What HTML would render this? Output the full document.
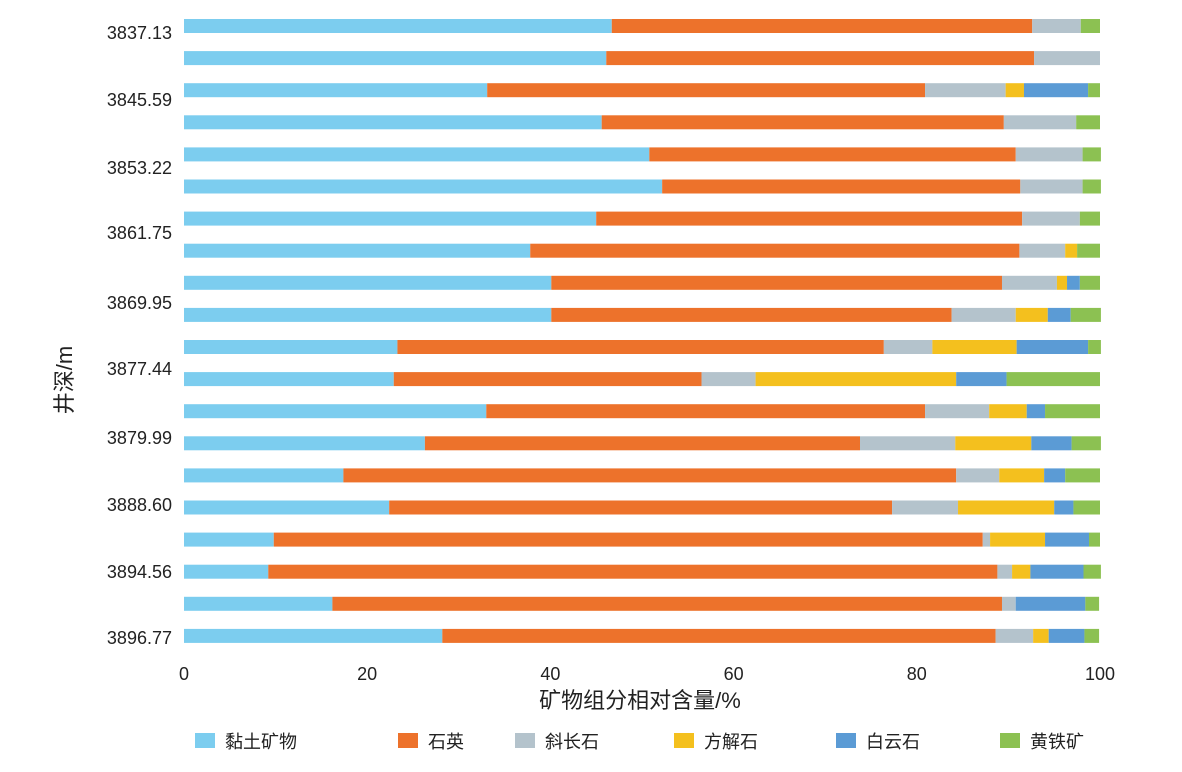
<!DOCTYPE html>
<html><head><meta charset="utf-8">
<style>
html,body{margin:0;padding:0;background:#fff;}
svg text{font-family:"Liberation Sans","Noto Sans CJK SC",sans-serif;fill:#222;}
</style></head>
<body>
<svg id="chart" width="1182" height="767" viewBox="0 0 1182 767" xmlns="http://www.w3.org/2000/svg">
<g id="bars"></g>
<g id="axes"></g>
<g id="legend"></g>
</svg>
<script>
const seriesNames = ["黏土矿物","石英","斜长石","方解石","白云石","黄铁矿"];
const seriesColors = ["#7ccdef","#ed722b","#b4c3cc","#f4c01e","#5b9bd5","#8cc152"];
const clay =     [46.7,46.1,33.1,45.6,50.8,52.2,45.0,37.8,40.1,40.1,23.3,22.9,33.0,26.3,17.4,22.4,9.8,9.2,16.2,28.2];
const quartz =   [45.9,46.7,47.8,43.9,40.0,39.1,46.5,53.4,49.2,43.7,53.1,33.6,47.9,47.5,66.9,54.9,77.4,79.6,73.1,60.4];
const plag =     [5.3,7.2,8.8,7.9,7.3,6.8,6.3,5.0,6.0,7.0,5.3,5.9,7.0,10.4,4.7,7.2,0.8,1.6,1.5,4.1];
const calcite =  [0,0,2.0,0,0,0,0,1.3,1.1,3.5,9.2,21.9,4.1,8.3,4.9,10.5,6.0,2.0,0,1.7];
const dolomite = [0,0,7.0,0,0,0,0,0,1.4,2.5,7.8,5.5,2.0,4.4,2.3,2.1,4.8,5.8,7.6,3.9];
const pyrite =   [2.1,0,1.3,2.6,2.0,2.0,2.2,2.5,2.2,3.3,1.4,10.2,6.0,3.2,3.8,2.9,1.2,1.9,1.5,1.6];
const depthLabels = ["3837.13","3845.59","3853.22","3861.75","3869.95","3877.44","3879.99","3888.60","3894.56","3896.77"];
const depthLabelY = [32,99,167,232,302,368,437,504,571,637];
const xTicks = [0,20,40,60,80,100];

const NS="http://www.w3.org/2000/svg";
const x0=184,x1=1100;
const xs=v=>x0+(x1-x0)*v/100;
const barY=i=>19+i*32.1;
const barH=14;
const series=[clay,quartz,plag,calcite,dolomite,pyrite];
const gB=document.getElementById('bars');
for(let i=0;i<clay.length;i++){
  let acc=0;
  for(let s=0;s<series.length;s++){
    const v=series[s][i];
    if(v<=0){continue;}
    const r=document.createElementNS(NS,'rect');
    r.setAttribute('x',xs(acc));r.setAttribute('y',barY(i));
    r.setAttribute('width',xs(acc+v)-xs(acc));r.setAttribute('height',barH);
    r.setAttribute('fill',seriesColors[s]);
    
    
    gB.appendChild(r);
    acc+=v;
  }
}
const gA=document.getElementById('axes');
function txt(parent,x,y,s,size,anchor,name){
  const t=document.createElementNS(NS,'text');
  t.setAttribute('x',x);t.setAttribute('y',y);t.setAttribute('font-size',size);
  t.setAttribute('text-anchor',anchor);t.textContent=s;
  
  
  parent.appendChild(t);return t;
}
xTicks.forEach(v=>txt(gA,xs(v),680,String(v),18,'middle','x-tick-label'));
depthLabels.forEach((d,i)=>txt(gA,172,depthLabelY[i]+7,d,18,'end','y-tick-label'));
txt(gA,640,708,'矿物组分相对含量/%',22,'middle','x-axis-title');
const yt=txt(gA,0,0,'井深/m',22,'middle','y-axis-title');
yt.setAttribute('transform','translate(72,380) rotate(-90)');
const gL=document.getElementById('legend');
const legX=[195,398,515,674,836,1000];
seriesNames.forEach((n,i)=>{
  const r=document.createElementNS(NS,'rect');
  r.setAttribute('x',legX[i]);r.setAttribute('y',733);r.setAttribute('width',20);r.setAttribute('height',15);
  r.setAttribute('fill',seriesColors[i]);
  
  
  gL.appendChild(r);
  txt(gL,legX[i]+30,748,n,18,'start','legend-label');
});
</script>
</body></html>
